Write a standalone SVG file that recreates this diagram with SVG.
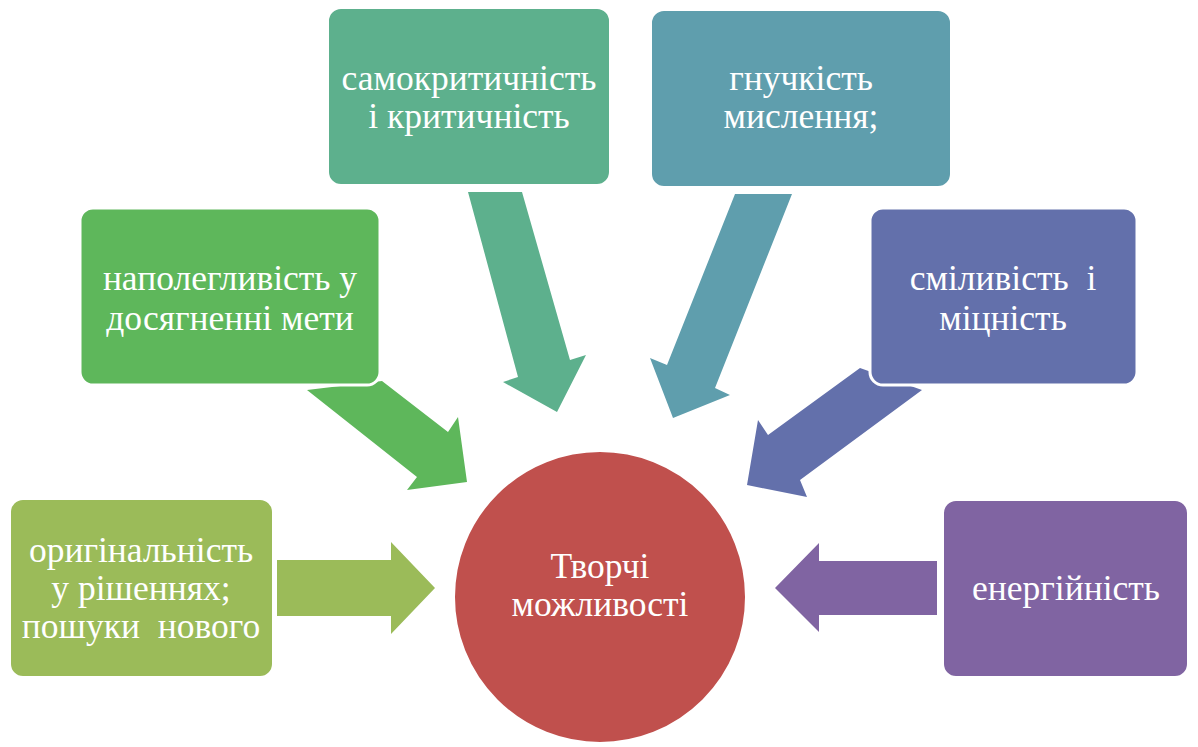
<svg xmlns="http://www.w3.org/2000/svg" width="1198" height="747" viewBox="0 0 1198 747">
<style>
text{font-family:"Liberation Serif","Times New Roman",serif;font-size:35.5px;fill:#fff;text-anchor:middle}
</style>
<rect width="1198" height="747" fill="#fff"/>
<g id="connectors">
<polygon fill="#9BBB59" points="277,560 391,560 391,542 435,588 391,634 391,616 277,616"/>
<polygon fill="#5EB75B" points="307,390 382,381 448,432 458,417 467,482 407,490 417,477"/>
<polygon fill="#5DB08D" points="468,192 522,192 570,360 586,355 557,412 503,382 518,377"/>
<polygon fill="#5F9EAD" points="735,194 792,194 715,388 730,395 673,418 650,358 667,365"/>
<polygon fill="#6370AB" points="860,368 922,390 800,480 807,497 747,485 758,420 768,435"/>
<polygon fill="#8064A2" points="937,561 819,561 819,543 775,588 819,632 819,615 937,615"/>
</g>
<g id="n1"><rect x="10" y="499" width="263" height="178" rx="13" fill="#9BBB59" stroke="#fff" stroke-width="2"/>
<text x="141" y="562">оригінальність</text><text x="141" y="600">у рішеннях;</text><text x="141" y="638" xml:space="preserve">пошуки  нового</text></g>
<g id="n2"><rect x="80" y="208" width="300" height="177" rx="13" fill="#5EB75B" stroke="#fff" stroke-width="3"/>
<text x="230" y="290">наполегливість у</text><text x="230" y="330">досягненні мети</text></g>
<g id="n3"><rect x="328" y="8" width="282" height="177" rx="13" fill="#5DB08D" stroke="#fff" stroke-width="2"/>
<text x="469" y="90">самокритичність</text><text x="469" y="128">і критичність</text></g>
<g id="n4"><rect x="651" y="10" width="300" height="177" rx="13" fill="#5F9EAD" stroke="#fff" stroke-width="2"/>
<text x="801" y="90">гнучкість</text><text x="801" y="128">мислення;</text></g>
<g id="n5"><rect x="870" y="208" width="267" height="177" rx="13" fill="#6370AB" stroke="#fff" stroke-width="3"/>
<text x="1003" y="290" xml:space="preserve">сміливість  і</text><text x="1003" y="330">міцність</text></g>
<g id="n6"><rect x="943" y="500" width="245" height="177" rx="13" fill="#8064A2" stroke="#fff" stroke-width="2"/>
<text x="1066" y="600">енергійність</text></g>
<g id="center"><circle cx="600" cy="597" r="146" fill="#C0504D" stroke="#fff" stroke-width="2"/>
<text x="600" y="578">Творчі</text><text x="600" y="616">можливості</text></g>
</svg>
